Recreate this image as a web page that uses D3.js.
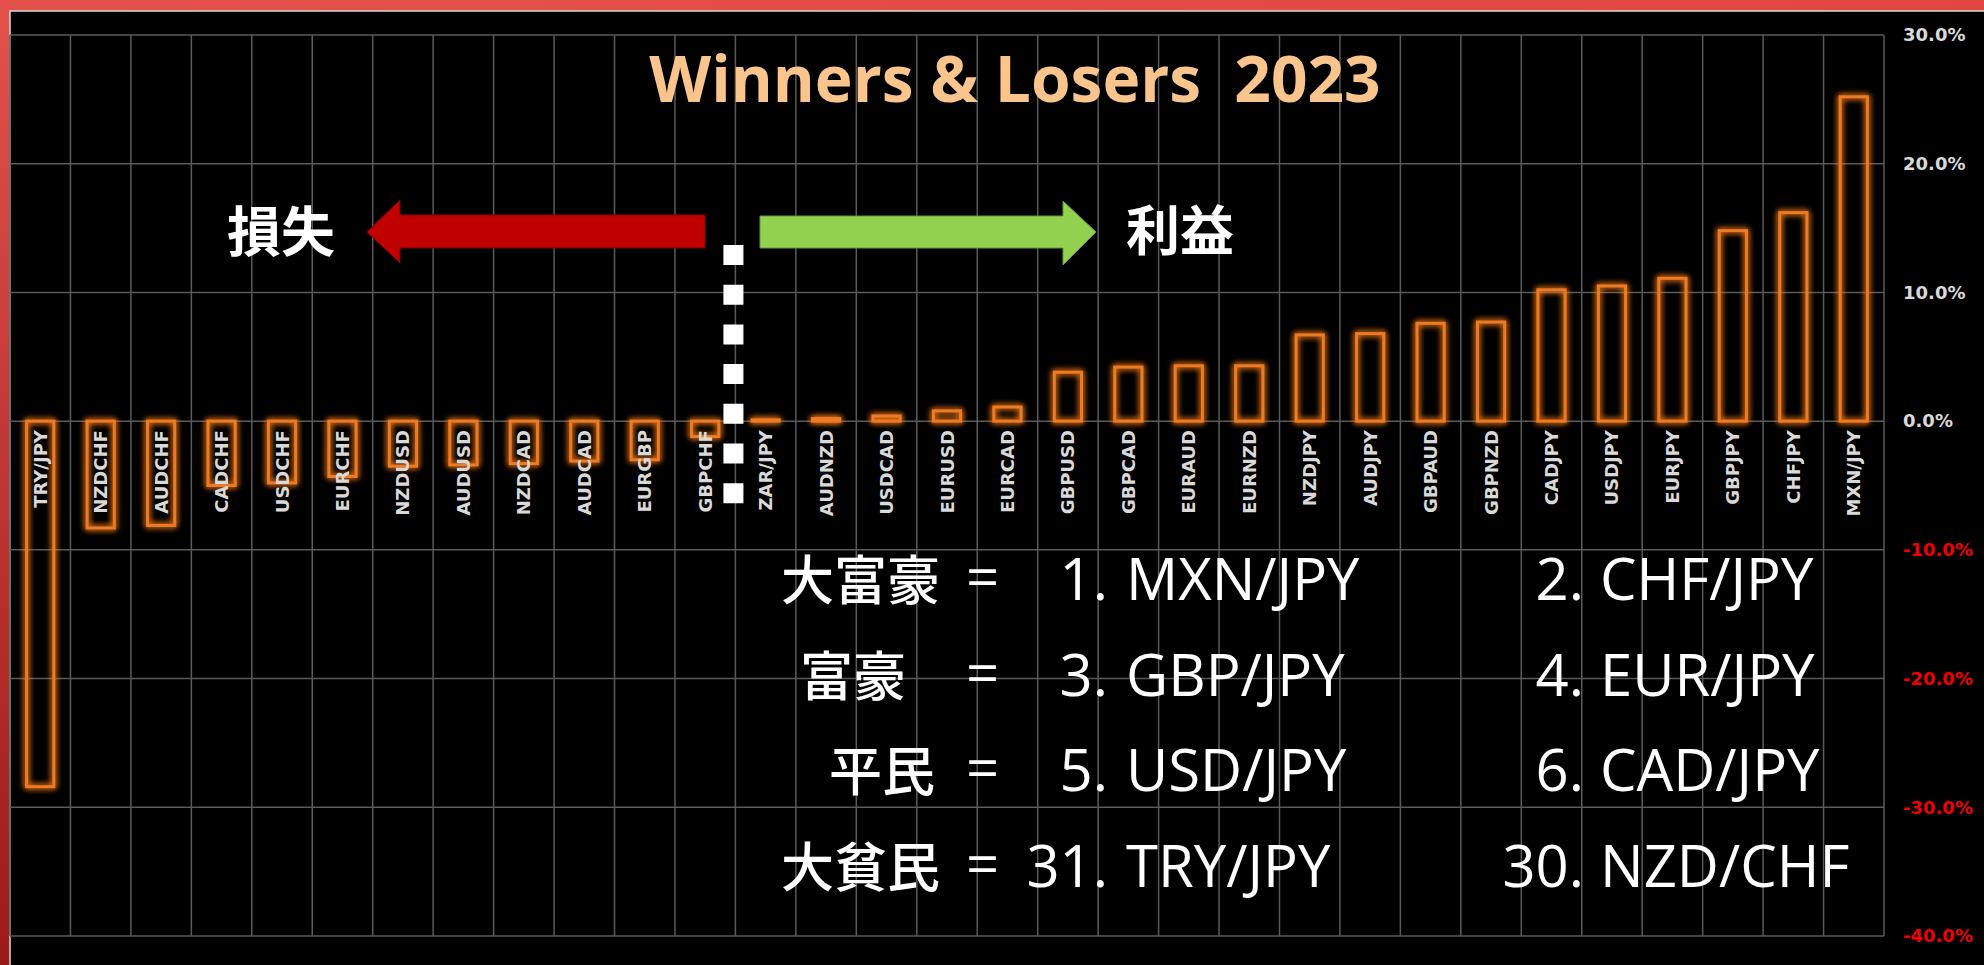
<!DOCTYPE html>
<meta charset="utf-8">
<style>
  body { margin: 0; background: #000; }
  .grid line { stroke: #5a5a5a; stroke-width: 1.5px; }
  .bar { fill: none; stroke: #f07a22; stroke-width: 3px; }
  .cat { fill: #d9d9d9; font-family: "DejaVu Sans", sans-serif; font-weight: bold; font-size: 18px; }
  .ylab text { font-family: "DejaVu Sans", sans-serif; font-weight: bold; font-size: 18px; }
  .big { fill: #fff; font-family: "Open Sans", "Noto Sans CJK JP", sans-serif; font-weight: 500; font-size: 58px; }
  .jp { fill: #fff; font-family: "Noto Sans CJK JP", sans-serif; font-weight: 500; font-size: 53px; }
</style>
<body>
<script src="https://d3js.org/d3.v7.min.js"></script>
<script>
  // currency pairs, sorted loser -> winner
  var pairs = ["TRY/JPY", "NZDCHF", "AUDCHF", "CADCHF", "USDCHF", "EURCHF", "NZDUSD", "AUDUSD",
    "NZDCAD", "AUDCAD", "EURGBP", "GBPCHF", "ZAR/JPY", "AUDNZD", "USDCAD", "EURUSD", "EURCAD",
    "GBPUSD", "GBPCAD", "EURAUD", "EURNZD", "NZDJPY", "AUDJPY", "GBPAUD", "GBPNZD", "CADJPY",
    "USDJPY", "EURJPY", "GBPJPY", "CHFJPY", "MXN/JPY"];
  // yearly change, %
  var change = [-28.4, -8.3, -8.1, -5.0, -4.8, -4.3, -3.5, -3.4, -3.3, -3.1, -3.0, -1.2,
    0.1, 0.2, 0.4, 0.8, 1.1, 3.8, 4.2, 4.3, 4.3, 6.7, 6.8, 7.6, 7.7, 10.2, 10.5, 11.1, 14.8, 16.2, 25.2];
  var yTicks = [30, 20, 10, 0, -10, -20, -30, -40];

  var title = "Winners & Losers  2023";
  var rankLabels = ["大富豪", "富豪", "平民", "大貧民"];
  var rankLeft = ["1.", "3.", "5.", "31."];
  var pairLeft = ["MXN/JPY", "GBP/JPY", "USD/JPY", "TRY/JPY"];
  var rankRight = ["2.", "4.", "6.", "30."];
  var pairRight = ["CHF/JPY", "EUR/JPY", "CAD/JPY", "NZD/CHF"];

  var W = 1984, H = 965;
  var plot = { left: 10, right: 1884, top: 35, bottom: 936 };

  var svg = d3.select("body").append("svg")
    .attr("width", W)
    .attr("height", H);

  var defs = svg.append("defs");
  var grad = defs.append("linearGradient").attr("id", "frame")
    .attr("x1", "1").attr("y1", "0").attr("x2", "0").attr("y2", "1");
  grad.append("stop").attr("offset", "0").attr("stop-color", "#e2473f");
  grad.append("stop").attr("offset", "0.5").attr("stop-color", "#e4514a");
  grad.append("stop").attr("offset", "1").attr("stop-color", "#9a1a1a");

  var glow = defs.append("filter").attr("id", "glow")
    .attr("x", "-50%").attr("y", "-10%").attr("width", "200%").attr("height", "120%");
  glow.append("feGaussianBlur").attr("in", "SourceGraphic").attr("stdDeviation", 3).attr("result", "b");
  var merge = glow.append("feMerge");
  merge.append("feMergeNode").attr("in", "b");
  merge.append("feMergeNode").attr("in", "b");
  merge.append("feMergeNode").attr("in", "SourceGraphic");

  // red frame + black panel
  svg.append("rect").attr("width", W).attr("height", H).attr("fill", "url(#frame)");
  svg.append("rect").attr("x", 10).attr("y", 11).attr("width", W - 10).attr("height", H - 11)
    .attr("fill", "#000");
  svg.append("path").attr("d", "M10," + H + "V11H" + W)
    .attr("fill", "none").attr("stroke", "#d8d8d8").attr("stroke-width", 1.5);

  var x = d3.scaleBand().domain(pairs).range([plot.left, plot.right]).padding(0);
  var y = d3.scaleLinear().domain([-40, 30]).range([plot.bottom, plot.top]);

  // grid
  var grid = svg.append("g").attr("class", "grid");
  grid.selectAll(".h").data(yTicks).enter().append("line")
    .attr("x1", plot.left).attr("x2", plot.right)
    .attr("y1", function (d) { return y(d); }).attr("y2", function (d) { return y(d); });
  var edges = pairs.map(function (p) { return x(p); }).concat([plot.right]);
  grid.selectAll(".v").data(edges).enter().append("line")
    .attr("x1", function (d) { return d; }).attr("x2", function (d) { return d; })
    .attr("y1", plot.top).attr("y2", plot.bottom);

  // right axis
  var axis = svg.append("g").attr("class", "ylab")
    .attr("transform", "translate(" + plot.right + ",0)")
    .call(d3.axisRight(y).tickValues(yTicks).tickSize(0).tickPadding(19)
      .tickFormat(function (d) { return d.toFixed(1) + "%"; }));
  axis.select(".domain").remove();
  axis.selectAll("text").attr("fill", function (d) { return d < 0 ? "#f00000" : "#d9d9d9"; });

  // bars
  var data = pairs.map(function (p, i) { return { pair: p, v: change[i] }; });
  var bw = x.bandwidth() * 0.45;
  svg.append("g").attr("filter", "url(#glow)")
    .selectAll("rect").data(data).enter().append("rect")
    .attr("class", "bar")
    .attr("x", function (d) { return x(d.pair) + (x.bandwidth() - bw) / 2; })
    .attr("width", bw)
    .attr("y", function (d) { return y(Math.max(0, d.v)); })
    .attr("height", function (d) { return Math.abs(y(d.v) - y(0)); });

  // category labels
  svg.append("g").selectAll("text").data(data).enter().append("text")
    .attr("class", "cat")
    .attr("text-anchor", "end")
    .attr("dominant-baseline", "central")
    .attr("transform", function (d) {
      return "translate(" + (x(d.pair) + x.bandwidth() / 2) + "," + (y(0) + 9) + ") rotate(-90)";
    })
    .text(function (d) { return d.pair; });

  // title
  svg.append("text")
    .attr("x", 1015).attr("y", 102)
    .attr("text-anchor", "middle")
    .style("white-space", "pre")
    .style("font-family", "'Open Sans', sans-serif").style("font-weight", "bold")
    .style("font-size", "64px").attr("fill", "#f9c58c")
    .text(title);

  // arrows
  svg.append("path")
    .attr("d", "M705,215H400V200L367,232L400,263V248H705Z")
    .attr("fill", "#c00000").attr("stroke", "#8a0000").attr("stroke-width", 1);
  svg.append("path")
    .attr("d", "M760,216H1063V201L1096,232L1063,265V248H760Z")
    .attr("fill", "#92d050").attr("stroke", "#5f9b33").attr("stroke-width", 1);
  svg.append("text").attr("x", 227).attr("y", 252)
    .style("font-family", "Noto Sans CJK JP").style("font-weight", "bold").style("font-size", "54px")
    .attr("fill", "#fff").text("損失");
  svg.append("text").attr("x", 1126).attr("y", 251)
    .style("font-family", "Noto Sans CJK JP").style("font-weight", "bold").style("font-size", "54px")
    .attr("fill", "#fff").text("利益");

  // divider between losers and winners
  var split = x(pairs[change.findIndex(function (v) { return v > 0; })]);
  svg.append("line")
    .attr("x1", split - 2).attr("x2", split - 2)
    .attr("y1", 245).attr("y2", 505)
    .attr("stroke", "#fff").attr("stroke-width", 20)
    .attr("stroke-dasharray", "20,19.7");

  // ranking notes
  var rowY = [600, 696, 791, 887];
  var rowX = [781, 800, 829, 781];
  rankLabels.forEach(function (lab, i) {
    svg.append("text").attr("class", "jp").attr("x", rowX[i]).attr("y", rowY[i]).text(lab);
    svg.append("text").attr("class", "big").attr("x", 966).attr("y", rowY[i] - 2).text("=");
    svg.append("text").attr("class", "big").attr("x", 1108).attr("y", rowY[i])
      .attr("text-anchor", "end").text(rankLeft[i]);
    svg.append("text").attr("class", "big").attr("x", 1126).attr("y", rowY[i]).text(pairLeft[i]);
    svg.append("text").attr("class", "big").attr("x", 1584).attr("y", rowY[i])
      .attr("text-anchor", "end").text(rankRight[i]);
    svg.append("text").attr("class", "big").attr("x", 1600).attr("y", rowY[i]).text(pairRight[i]);
  });
</script>
</body>
